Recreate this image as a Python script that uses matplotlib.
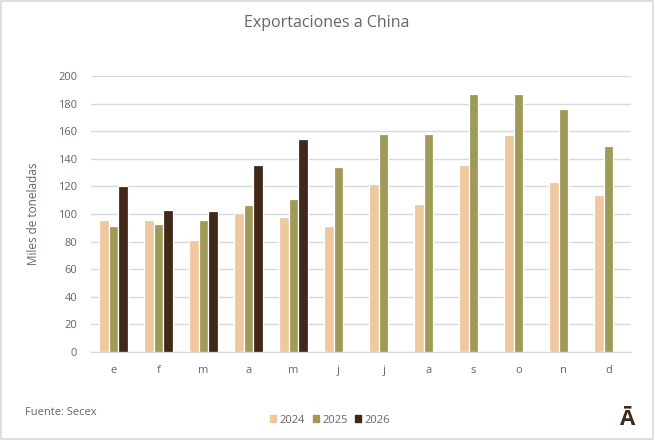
# Exportaciones a China - barras mensuales por año

import matplotlib
matplotlib.use("Agg")
import matplotlib.pyplot as plt
from matplotlib.patches import Rectangle, Patch
import numpy as np

months = ["e", "f", "m", "a", "m", "j", "j", "a", "s", "o", "n", "d"]
years = ["2024", "2025", "2026"]
v2024 = [96, 96, 81, 101, 97.5, 91, 122, 107, 135.5, 157, 123, 114]
v2025 = [91.5, 92.5, 96, 106.5, 111, 134, 158, 158, 187, 187, 176, 149]
v2026 = [120, 103, 102, 135.5, 154]

colors = ["#F0C8A0", "#A09A58", "#412818"]
text_col = "#6b6166"

plt.rcParams["font.family"] = ["Open Sans", "DejaVu Sans"]

fig = plt.figure(figsize=(6.55, 4.4), dpi=100)
ax = fig.add_axes([91 / 655, 88 / 440, 540 / 655, 276 / 440])

x = np.arange(len(months))
step = 0.222
for i, vals in enumerate([v2024, v2025, v2026]):
    xs = x[:len(vals)] + (i - 1) * step
    ax.bar(xs, vals, width=step, color=colors[i], edgecolor="white",
           linewidth=0.9, zorder=3, label=years[i])

ax.set_xlim(-0.5, len(months) - 0.5)
ax.set_ylim(0, 200)
ax.set_yticks(range(0, 201, 20))
ax.set_xticks(x)
ax.set_xticklabels(months)
ax.grid(axis="y", color="#d9d9d9", linewidth=1, zorder=0)
for s in ["top", "right", "left"]:
    ax.spines[s].set_visible(False)
ax.spines["bottom"].set_color("#d9d9d9")
ax.tick_params(length=0, labelsize=8, colors=text_col)
ax.tick_params(axis="x", pad=9)
ax.tick_params(axis="y", pad=10)
ax.set_ylabel("Miles de toneladas", fontsize=8.5, color=text_col, labelpad=13)

fig.text(327 / 655, 1 - 23 / 440, "Exportaciones a China", ha="center",
         va="center", fontsize=11.5, color=text_col)
fig.text(25 / 655, 1 - 412 / 440, "Fuente: Secex", ha="left", va="center",
         fontsize=8, color=text_col)
fig.text(627 / 655, 1 - 419 / 440, "Ā", ha="center", va="center",
         fontsize=16, fontweight="bold", color="#3d2a1e")

handles = [Patch(color=c, label=y) for c, y in zip(colors, years)]
fig.legend(handles=handles, loc="center", bbox_to_anchor=(330 / 655, 1 - 420 / 440),
           ncol=3, frameon=False, fontsize=8, labelcolor=text_col,
           handlelength=0.55, handleheight=0.55, handletextpad=0.3,
           columnspacing=0.7)

fig.patches.append(Rectangle((0.002, 0.003), 0.995, 0.994, transform=fig.transFigure,
                             fill=False, edgecolor="#d9d9d9", linewidth=1.2))

fig.savefig("out.png", dpi=100)
